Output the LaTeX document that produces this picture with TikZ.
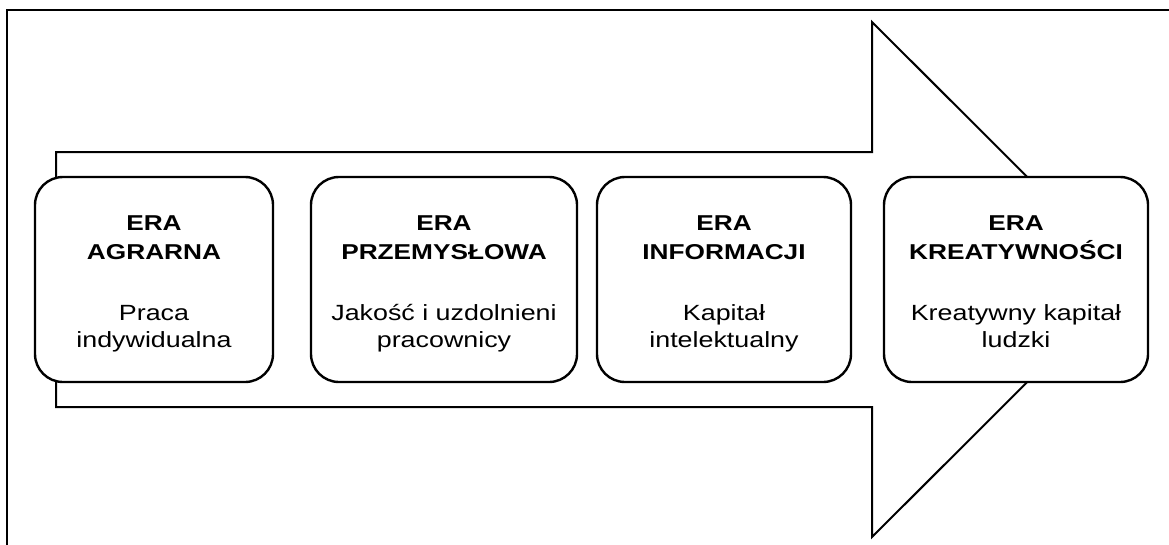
\documentclass[tikz,border=0pt]{standalone}
\usepackage{fontspec}
\setmainfont[FakeStretch=1.22]{Liberation Sans}
\begin{document}
\begin{tikzpicture}[x=1pt,y=-1pt,
  framestyle/.style={line width=2pt},
  arrowstyle/.style={line width=2pt,fill=white,line join=miter},
  erabox/.style={draw,line width=2.4pt,fill=white,rounded corners=28pt,
    minimum height=205pt,inner sep=0pt},
  titletext/.style={font=\fontsize{21.5}{28}\selectfont\bfseries,anchor=base,inner sep=0pt},
  bodytext/.style={font=\fontsize{22}{28}\selectfont,anchor=base,inner sep=0pt}]
\useasboundingbox (0,0) rectangle (1169,544);
% outer frame
\draw[framestyle] (7,560) -- (7,10) -- (1185,10);
% large arrow behind the eras
\draw[arrowstyle] (56,152) -- (872,152) -- (872,22) -- (1130,279.5)
  -- (872,537) -- (872,407) -- (56,407) -- cycle;
% era boxes
\node[erabox,minimum width=238pt] (b1) at (154,279.5) {};
\node[erabox,minimum width=266pt] (b2) at (444,279.5) {};
\node[erabox,minimum width=254pt] (b3) at (724,279.5) {};
\node[erabox,minimum width=264pt] (b4) at (1016,279.5) {};
% texts
\foreach \b/\ta/\tb/\ba/\bb in {
  b1/ERA/AGRARNA/Praca/indywidualna,
  b2/ERA/PRZEMYSŁOWA/Jakość i uzdolnieni/pracownicy,
  b3/ERA/INFORMACJI/Kapitał/intelektualny,
  b4/ERA/KREATYWNOŚCI/Kreatywny kapitał/ludzki}{
  \node[titletext] (\b-t1) at (\b.center |- 0,230.7) {\ta};
  \node[titletext] (\b-t2) at (\b.center |- 0,259) {\tb};
  \node[bodytext] (\b-s1) at (\b.center |- 0,320) {\ba};
  \node[bodytext] (\b-s2) at (\b.center |- 0,347) {\bb};
}
\end{tikzpicture}
\end{document}
